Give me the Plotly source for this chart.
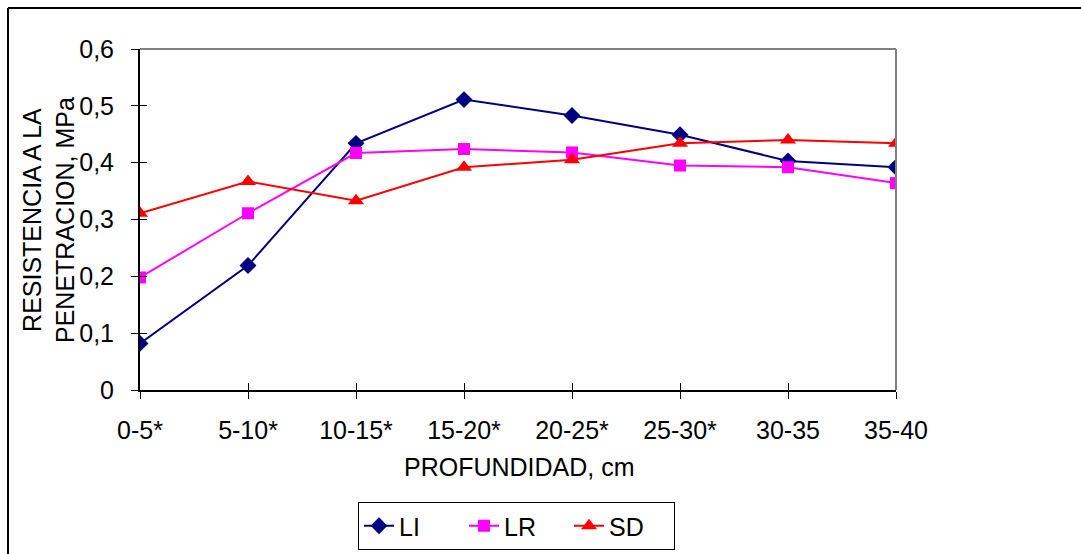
import plotly.graph_objects as go

categories = ["0-5*", "5-10*", "10-15*", "15-20*", "20-25*", "25-30*", "30-35", "35-40"]
li_values = [0.082, 0.219, 0.434, 0.511, 0.483, 0.449, 0.403, 0.392]
lr_values = [0.198, 0.311, 0.417, 0.424, 0.418, 0.395, 0.392, 0.364]
sd_values = [0.311, 0.367, 0.333, 0.392, 0.405, 0.434, 0.440, 0.434]
y_ticks = [0, 0.1, 0.2, 0.3, 0.4, 0.5, 0.6]
y_ticktext = ["0", "0,1", "0,2", "0,3", "0,4", "0,5", "0,6"]

W, H = 1081, 554
ML, MR, MT, MB = 140, 185, 49, 164
PW, PH = W - ML - MR, H - MT - MB

def px_x(px):
    return (px - ML) / PW

def px_y(py):
    return (H - MB - py) / PH

FONT = "Liberation Sans, Arial, sans-serif"
FS = 25
x = list(range(len(categories)))

fig = go.Figure()
series = [
    ("LI", li_values, "#000080", "diamond", 13),
    ("LR", lr_values, "#FF00FF", "square", 12),
    ("SD", sd_values, "#FF0000", "triangle-up", 14),
]
for name, vals, col, sym, sz in series:
    fig.add_trace(go.Scatter(
        x=x, y=vals, name=name, mode="lines+markers",
        line=dict(color=col, width=2),
        marker=dict(symbol=sym, size=sz, color=col, line=dict(width=0)),
    ))

# invisible trace for overlay axes (to draw crossing ticks)
fig.add_trace(go.Scatter(x=[0], y=[0], xaxis="x2", yaxis="y2",
                         mode="markers", marker=dict(opacity=0),
                         showlegend=False, hoverinfo="skip"))

fig.update_layout(
    width=W, height=H,
    margin=dict(l=ML, r=MR, t=MT, b=MB, pad=0, autoexpand=False),
    paper_bgcolor="white", plot_bgcolor="white",
    font=dict(family=FONT, size=FS, color="black"),
    showlegend=True,
    xaxis=dict(
        range=[0, len(categories) - 1], tickvals=x, ticktext=categories,
        showgrid=False, zeroline=False, showline=True, linecolor="black",
        linewidth=2, ticks="outside", ticklen=7, tickwidth=1, tickcolor="black",
        tickfont=dict(size=FS, family=FONT), ticklabelstandoff=10, automargin=False,
    ),
    yaxis=dict(
        range=[0, 0.6], tickvals=y_ticks, ticktext=y_ticktext,
        showgrid=False, zeroline=False, showline=True, linecolor="black",
        linewidth=2, ticks="outside", ticklen=7, tickwidth=1, tickcolor="black",
        tickfont=dict(size=FS, family=FONT), ticklabelstandoff=12, automargin=False,
    ),
    xaxis2=dict(overlaying="x", range=[0, len(categories) - 1], tickvals=x,
                showticklabels=False, showgrid=False, zeroline=False,
                ticks="inside", ticklen=7, tickwidth=1, tickcolor="black",
                side="bottom", showline=False),
    yaxis2=dict(overlaying="y", range=[0, 0.6], tickvals=y_ticks,
                showticklabels=False, showgrid=False, zeroline=False,
                ticks="inside", ticklen=7, tickwidth=1, tickcolor="black",
                side="left", showline=False),
    legend=dict(
        orientation="h", x=px_x(358), y=px_y(502), xanchor="left", yanchor="top",
        bordercolor="black", borderwidth=1, bgcolor="white",
        font=dict(size=FS, family=FONT), entrywidth=60, entrywidthmode="pixels",
        tracegroupgap=0,
    ),
    annotations=[
        dict(text="PROFUNDIDAD, cm", x=px_x(519), y=px_y(467), xref="paper", yref="paper",
             showarrow=False, font=dict(size=FS, family=FONT), xanchor="center", yanchor="middle"),
        dict(text="RESISTENCIA A LA<br>PENETRACION, MPa", x=px_x(48), y=px_y(220),
             xref="paper", yref="paper", textangle=-90, showarrow=False,
             font=dict(size=FS, family=FONT), xanchor="center", yanchor="middle"),
    ],
    shapes=[
        dict(type="line", xref="paper", yref="paper", x0=0, x1=1, y0=1, y1=1,
             line=dict(color="#808080", width=2)),
        dict(type="line", xref="paper", yref="paper", x0=1, x1=1, y0=0, y1=1,
             line=dict(color="#808080", width=2)),
        dict(type="line", xref="paper", yref="paper", x0=px_x(8), x1=px_x(W), y0=px_y(8), y1=px_y(8),
             line=dict(color="black", width=2)),
        dict(type="line", xref="paper", yref="paper", x0=px_x(8), x1=px_x(8), y0=px_y(8), y1=px_y(H),
             line=dict(color="black", width=2)),
    ],
)

fig.write_html("out.html")
